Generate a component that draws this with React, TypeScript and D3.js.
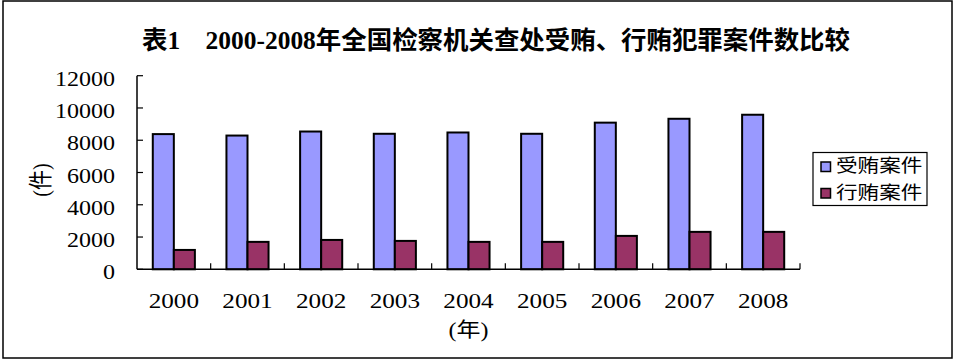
import React from 'react';
import * as d3 from 'd3';

// data
const years = ['2000', '2001', '2002', '2003', '2004', '2005', '2006', '2007', '2008'];
const bribeTaking = [8380, 8290, 8540, 8400, 8480, 8400, 9090, 9330, 9580];
const bribeGiving = [1200, 1700, 1820, 1760, 1700, 1700, 2070, 2320, 2320];
const yTicks = [0, 2000, 4000, 6000, 8000, 10000, 12000];
const seriesNames = ['受贿案件', '行贿案件'];
const seriesColors = ['#9999FF', '#993366'];

const title = '表1\u30002000-2008年全国检察机关查处受贿、行贿犯罪案件数比较';

const width = 954;
const height = 361;
const serif = '"Liberation Serif", "Noto Sans CJK SC", serif';

const App: React.FC = () => {
    const x = d3.scaleBand<string>()
        .domain(years)
        .range([137, 800])
        .paddingInner(0)
        .paddingOuter(0);

    const y = d3.scaleLinear()
        .domain([0, 12000])
        .range([269.3, 75.7]);

    // Excel style gap width 150%
    const bw = x.bandwidth() / 3.5;
    const series = [bribeTaking, bribeGiving];

    return (
        <svg
            width={width}
            height={height}
            style={{ position: 'absolute', left: 0, top: 0, background: '#fff' }}
        >
            <rect x={3} y={1} width={949} height={357} fill="#fff" stroke="#000" strokeWidth={1.5} />

            <text
                x={496}
                y={49}
                textAnchor="middle"
                textLength={708}
                lengthAdjust="spacingAndGlyphs"
                style={{ fontFamily: serif, fontSize: 25, fontWeight: 'bold' }}
            >
                {title}
            </text>

            {/* bars */}
            {series.map((vals, si) =>
                vals.map((v, i) => (
                    <rect
                        key={`${si}-${i}`}
                        x={(x(years[i]) as number) + bw * (0.75 + si)}
                        y={y(v)}
                        width={bw}
                        height={y(0) - y(v)}
                        fill={seriesColors[si]}
                        stroke="#000"
                        strokeWidth={2}
                    />
                ))
            )}

            {/* y axis */}
            <line x1={137} x2={137} y1={y(12000)} y2={y(0)} stroke="#000" strokeWidth={1.5} />
            {yTicks.map(t => (
                <g key={t}>
                    <line x1={137} x2={143} y1={y(t)} y2={y(t)} stroke="#000" strokeWidth={1.2} />
                    <text
                        transform={`translate(115,${y(t) + 10}) scale(1.2,1)`}
                        textAnchor="end"
                        style={{ fontFamily: serif, fontSize: 20 }}
                    >
                        {t}
                    </text>
                </g>
            ))}

            {/* x axis */}
            <line x1={137} x2={800} y1={y(0)} y2={y(0)} stroke="#000" strokeWidth={1.5} />
            {years.map(yr => (
                <g key={yr}>
                    <line
                        x1={(x(yr) as number) + x.bandwidth()}
                        x2={(x(yr) as number) + x.bandwidth()}
                        y1={y(0)}
                        y2={y(0) - 6}
                        stroke="#000"
                        strokeWidth={1.2}
                    />
                    <text
                        transform={`translate(${(x(yr) as number) + x.bandwidth() / 2},308) scale(1.2,1)`}
                        textAnchor="middle"
                        style={{ fontFamily: serif, fontSize: 21 }}
                    >
                        {yr}
                    </text>
                </g>
            ))}

            <text
                transform="translate(468.5,337) scale(1.2,1)"
                textAnchor="middle"
                style={{ fontFamily: serif, fontSize: 20 }}
            >
                (年)
            </text>
            <text
                transform="translate(49,180) scale(1.2,1) rotate(-90)"
                textAnchor="middle"
                style={{ fontFamily: serif, fontSize: 20 }}
            >
                (件)
            </text>

            {/* legend */}
            <rect x={813} y={152.5} width={114} height={53} fill="#fff" stroke="#000" strokeWidth={1.2} />
            {seriesNames.map((name, i) => (
                <g key={name}>
                    <rect
                        x={821}
                        y={162 + i * 26.5}
                        width={9.5}
                        height={9.5}
                        fill={seriesColors[i]}
                        stroke="#000"
                        strokeWidth={1.5}
                    />
                    <text
                        transform={`translate(836,${172 + i * 26.5}) scale(1.2,1)`}
                        style={{ fontFamily: '"Noto Sans CJK SC", sans-serif', fontSize: 18 }}
                    >
                        {name}
                    </text>
                </g>
            ))}
        </svg>
    );
};

export default App;
